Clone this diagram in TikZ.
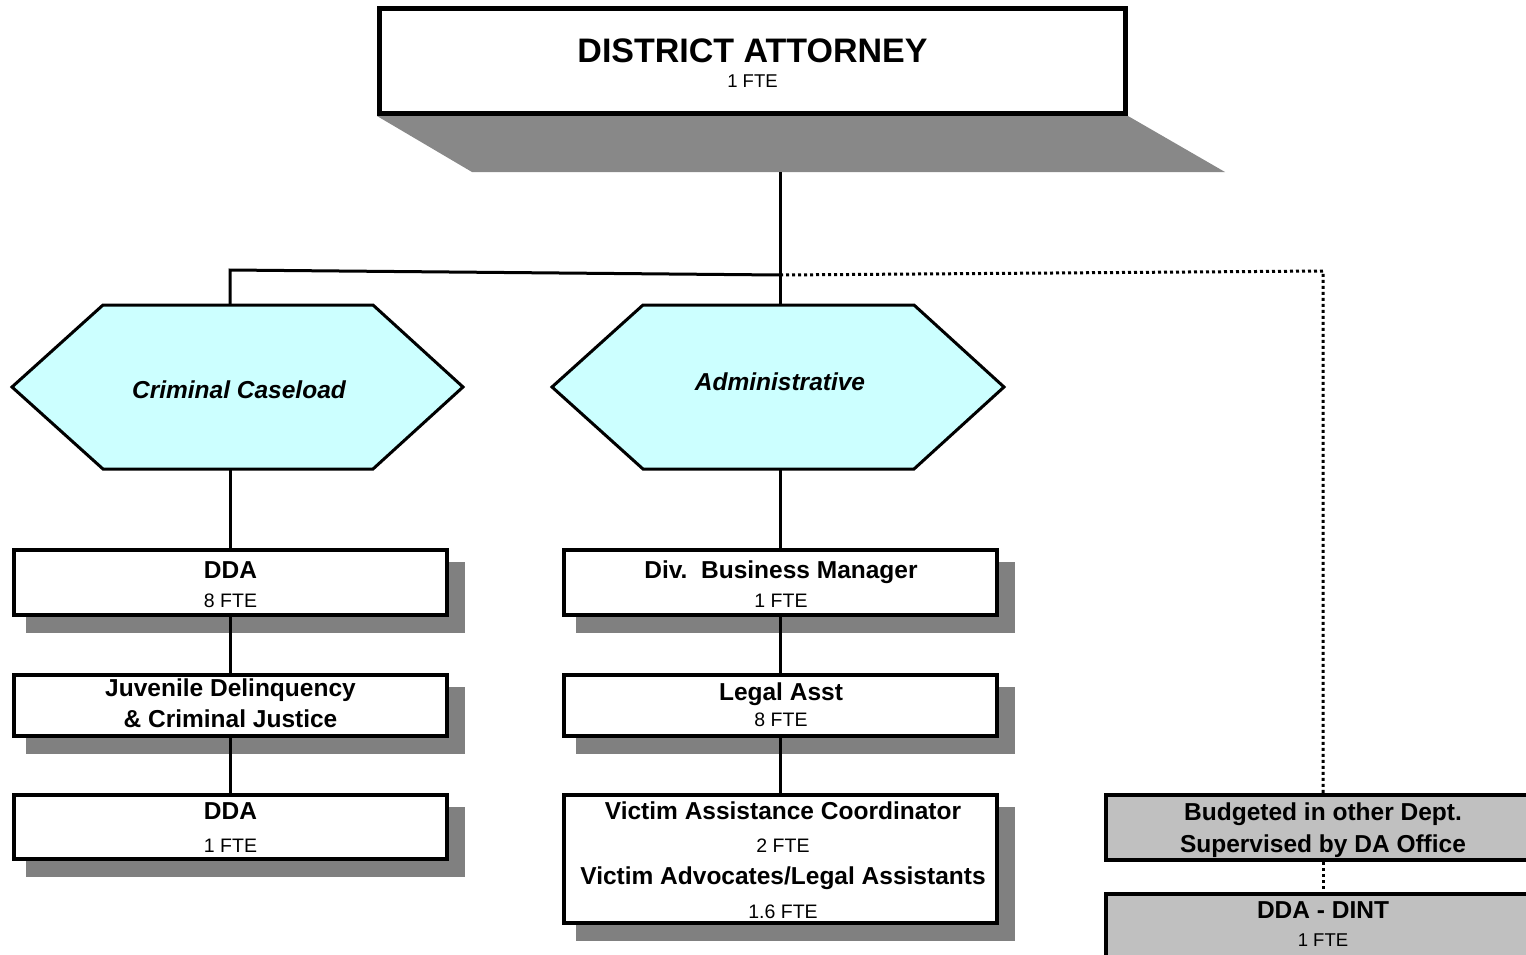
\documentclass[tikz,border=0pt]{standalone}
\usepackage{fontspec}
\setmainfont{Liberation Sans}
\usetikzlibrary{backgrounds}
\definecolor{shadowgray}{HTML}{808080}
\definecolor{dashadowc}{HTML}{888888}
\definecolor{hexfill}{HTML}{CCFFFF}
\definecolor{extfill}{HTML}{C0C0C0}
\begin{document}
\begin{tikzpicture}[x=1pt,y=-1pt,
  orgbox/.style={draw=black, line width=4pt, fill=white, inner sep=0pt, minimum width=433pt},
  extbox/.style={orgbox, fill=extfill, minimum width=434pt},
  hexlabel/.style={inner sep=0pt, minimum width=271pt, minimum height=164pt},
  hexshape/.style={draw=black, line width=3pt, fill=hexfill, line join=miter},
  boxshadow/.style={fill=shadowgray},
  conn/.style={draw=black, line width=3pt},
  dotconn/.style={draw=black, line width=3pt, dash pattern=on 3pt off 3pt},
  ttl/.style={font=\fontsize{24.5}{28}\selectfont\bfseries, anchor=base, inner sep=0pt},
  httl/.style={font=\fontsize{24.5}{28}\selectfont\bfseries\itshape, anchor=base, inner sep=0pt},
  fte/.style={font=\fontsize{19.5}{22}\selectfont, anchor=base, inner sep=0pt}
]
\useasboundingbox (0,0) rectangle (1526,954);
\clip (0,0) rectangle (1526,954);

% ---- boxes ----
\node[orgbox, line width=5pt, minimum width=746pt, minimum height=105pt] (da) at (752.5,61) {};
\node[orgbox, minimum height=65pt] (dda8) at (230.5,582.5) {};
\node[orgbox, minimum height=61pt] (juv) at (230.5,705.5) {};
\node[orgbox, minimum height=64pt] (dda1) at (230.5,827) {};
\node[orgbox, minimum height=65pt] (div) at (780,582.5) {};
\node[orgbox, minimum height=61pt] (legal) at (780,705.5) {};
\node[orgbox, minimum height=128pt] (victim) at (780,859) {};
\node[extbox, minimum height=65pt] (budget) at (1323,827.5) {};
\node[extbox, minimum height=64pt] (dint) at (1323,926) {};

% ---- hexagons ----
\draw[hexshape] (103,305) -- (373,305) -- (463,387) -- (373,469) -- (103,469) -- (12,387) -- cycle;
\draw[hexshape] (643,305) -- (914,305) -- (1004,387) -- (914,469) -- (643,469) -- (552,387) -- cycle;
\node[hexlabel] (crim) at (238,387) {};
\node[hexlabel] (adm) at (778.5,387) {};
\node[httl] at (239,398) {Criminal Caseload};
\node[httl] at (780,390) {Administrative};

% ---- shadows and connectors behind ----
\begin{pgfonlayer}{background}
  \fill[dashadowc] (da.south west) -- (da.south east) -- ++(97,56) -- ([shift={(95,56)}]da.south west) -- cycle;
  \coordinate (dafoot) at (780,172);
  \foreach \b in {dda8,juv,dda1,div,legal,victim}
    \fill[boxshadow] ([shift={(14,14)}]\b.north west) rectangle ([shift={(16,16)}]\b.south east);
  \coordinate (jc) at (780,275);
  \coordinate (jl) at (230,270);
  \coordinate (jr) at (1323,271);
  \draw[conn] (dafoot) -- (dafoot |- adm.north);
  \draw[conn] (jc) -- (jl) -- (jl |- crim.north);
  \draw[dotconn] (jc) -- (jr) -- (budget.north);
  \draw[dotconn] (budget.south) -- (dint.north);
  \draw[conn] (dda8.north |- crim.south) -- (dda8.north);
  \draw[conn] (dda8.south) -- (juv.north);
  \draw[conn] (juv.south) -- (dda1.north);
  \draw[conn] (div.north |- adm.south) -- (div.north);
  \draw[conn] (div.south) -- (legal.north);
  \draw[conn] (legal.south) -- (victim.north);
\end{pgfonlayer}

% ---- texts ----
\node[anchor=base, inner sep=0pt, font=\fontsize{34}{40}\selectfont\bfseries] at (752.5,62) {DISTRICT ATTORNEY};
\node[fte, font=\fontsize{18.5}{22}\selectfont] at (752.5,87) {1 FTE};

\node[ttl] at (230.5,578) {DDA};
\node[fte] at (230.5,607.5) {8 FTE};
\node[ttl] at (230.5,696) {Juvenile Delinquency};
\node[ttl] at (230.5,727.5) {\& Criminal Justice};
\node[ttl] at (230.5,819) {DDA};
\node[fte] at (230.5,852.5) {1 FTE};

\node[ttl] at (781,578) {Div.\ \ Business Manager};
\node[fte] at (781,607.5) {1 FTE};
\node[ttl] at (781,700) {Legal Asst};
\node[fte] at (781,726) {8 FTE};
\node[ttl] at (783,819) {Victim Assistance Coordinator};
\node[fte] at (783,852.5) {2 FTE};
\node[ttl] at (783,884) {Victim Advocates/Legal Assistants};
\node[fte] at (783,918) {1.6 FTE};

\node[ttl] at (1323,820) {Budgeted in other Dept.};
\node[ttl] at (1323,852) {Supervised by DA Office};
\node[ttl] at (1323,918) {DDA - DINT};
\node[fte, font=\fontsize{18.5}{22}\selectfont] at (1323,946) {1 FTE};
\end{tikzpicture}
\end{document}
